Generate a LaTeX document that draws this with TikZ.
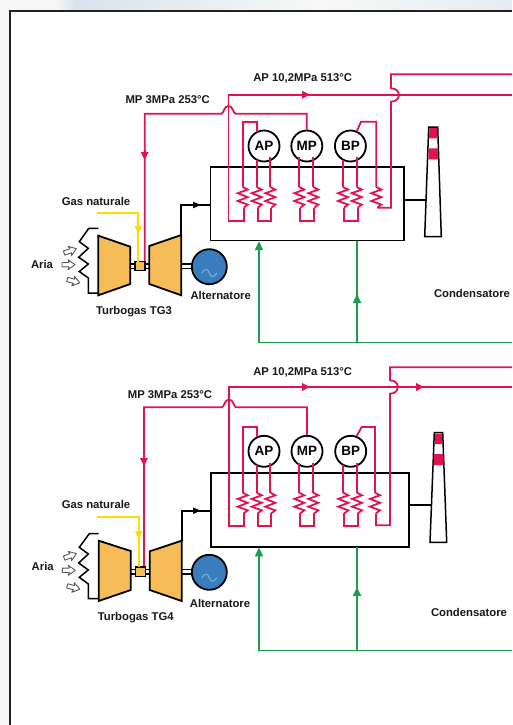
\documentclass[tikz,border=0pt]{standalone}
\usepackage{fontspec}
\setmainfont{Liberation Sans}
\usetikzlibrary{arrows.meta,calc}
\definecolor{pipered}{HTML}{E2134F}
\definecolor{gasyellow}{HTML}{FFDB00}
\definecolor{pipegreen}{HTML}{1E9C50}
\definecolor{machine}{HTML}{F5BC58}
\definecolor{genblue}{HTML}{3A7DBE}
\definecolor{sinecol}{HTML}{7FC4D8}
\definecolor{framecol}{HTML}{222222}
\definecolor{paper}{HTML}{F7F7F7}
\definecolor{tinta}{HTML}{D8E3EE}
\definecolor{tintb}{HTML}{F6F9F6}
\definecolor{tintc}{HTML}{E6ECF4}
\tikzset{
  x=1pt,y=-1pt,
  redpipe/.style={draw=pipered,line width=1.8pt,line join=miter},
  blackline/.style={draw=black,line width=1.8pt},
  greenpipe/.style={draw=pipegreen,line width=1.6pt},
  yellowpipe/.style={draw=gasyellow,line width=1.7pt},
  redtip/.style={redpipe,-{Triangle[length=8pt,width=7.5pt]}},
  blacktip/.style={blackline,-{Triangle[length=8pt,width=6pt]}},
  greentip/.style={greenpipe,-{Triangle[length=9pt,width=8pt]}},
  yellowtip/.style={yellowpipe,-{Triangle[length=8pt,width=7pt]}},
  lbl/.style={font=\fontsize{11.3}{12}\selectfont\bfseries,text=black!90,inner sep=0pt},
  turbine/.style={draw=black,line width=1.8pt,fill=machine,line join=miter},
  drum/.style={circle,draw=black,line width=1.8pt,fill=white,minimum size=31pt,inner sep=0pt,font=\fontsize{13.5}{14}\selectfont\bfseries},
  gen/.style={circle,draw=black,line width=1.8pt,fill=genblue,minimum size=35pt,inner sep=0pt},
  burner/.style={draw=black,line width=1.5pt,fill=machine,inner sep=0pt},
  hrsg/.style={draw=black,line width=1.8pt,inner sep=0pt},
}
% coil: name, x, top y, bottom y
\newcommand{\coil}[4]{%
  \coordinate (#1-t) at (#2,#3);
  \coordinate (#1-b) at (#2+1,#4);
  \draw[redpipe] (#1-t) -- ++(5,2.6) -- ++(-10,3.6) -- ++(10,3.9) -- ++(-10,3.9) -- ++(10,3.6) -- (#1-b);
}
% hollow air arrow: x, y, angle
\newcommand{\airarrow}[3]{%
  \draw[draw=black!65,fill=white,line width=.9pt,line join=round,rotate around={#3:(#1,#2)}]
    (#1-7,#2-2.2) -- (#1,#2-2.2) -- (#1-1,#2-5) -- (#1+6,#2) -- (#1-1,#2+5) -- (#1,#2+2.2) -- (#1-7,#2+2.2) -- cycle;
}
% double shaft line between two abscissae
\newcommand{\shaft}[3]{%
  \draw[black,line width=1.2pt] (#1,#3-2.1) -- (#2,#3-2.1) (#1,#3+2.1) -- (#2,#3+2.1);
}
\newcommand{\sine}[2]{%
  \draw[sinecol,line width=.8pt] (#1-7.5,#2) .. controls (#1-4,#2-5.5) and (#1-1.5,#2-4) .. (#1,#2) .. controls (#1+1.5,#2+4) and (#1+4,#2+5.5) .. (#1+7.5,#2);
}
\begin{document}
\begin{tikzpicture}
\useasboundingbox (0,0) rectangle (512,725);
\fill[paper] (0,0) rectangle (512,725);
% top tint
\shade[left color=paper,right color=tinta] (55,0) rectangle (75,10);
\shade[left color=tinta,right color=tintb] (75,0) rectangle (320,10);
\shade[left color=tintb,right color=tintc] (320,0) rectangle (512,10);
% frame
\fill[white] (10,11) rectangle (512,725);
\draw[framecol,line width=1.5pt] (512,11) -- (10,11) -- (10,725);

%% ---------- upper group TG3 ----------
\node[hrsg,minimum width=193.5pt,minimum height=73.5pt] (boxA) at (307.2,203.8) {};
\node[drum] (apA) at (264,146) {AP};
\node[drum] (mpA) at (306.8,146) {MP};
\node[drum] (bpA) at (350.4,146) {BP};
\foreach \n/\x in {a1/242.7,a2/256.7,a3/270.3,a4/299.3,a5/313.3,a6/343,a7/356.7,a8/376.3}{\coil{\n}{\x}{187}{207.7}}
% AP main line
\coordinate (apstartA) at (228.5,220.8);
\draw[redpipe] (512,94.7) -- (228.5,94.7) -- (apstartA) -| (a1-b);
\draw[redtip] (296,94.7) -- (310,94.7);
% AP loop
\draw[redpipe] (a1-t) |- (256.7,121.7) -- (256.7,132);
\draw[redpipe] (256.7,160) -- (a2-t);
\draw[redpipe] (270.3,157) -- (a3-t);
\draw[redpipe] (a2-b) |- (271.3,220.8) -- (a3-b);
% MP
\draw[redpipe] (144.7,261.5) -- (144.7,113.7) -- (221.5,113.7) .. controls (223.5,113.7) and (224,106) .. (228.5,106) .. controls (233,106) and (233.5,113.7) .. (235.5,113.7) -| (mpA.north);
\draw[redtip] (144.7,150) -- (144.7,160);
\draw[redpipe] (299.3,157) -- (a4-t);
\draw[redpipe] (313.3,157) -- (a5-t);
\draw[redpipe] (a4-b) |- (314.3,220.8) -- (a5-b);
% BP
\draw[redpipe] (343,160) -- (a6-t);
\draw[redpipe] (356.7,157) -- (a7-t);
\draw[redpipe] (a6-b) |- (357.7,220.8) -- (a7-b);
\draw[redpipe] (a8-t) |- (361,121.7) -- (356.7,131.5);
% upper AP return with bump
\draw[redpipe] (a8-b) -| (391,101.7) .. controls (401.5,101.7) and (401.5,88.3) .. (391,88.3) -- (391,74.3) -- (512,74.3);
% stack
\draw[black,line width=1.5pt,fill=white] (428.7,127) -- (437.7,127) -- (441.3,236.7) -- (424.7,236.7) -- cycle;
\fill[pipered] (429.4,128) -- (437,128) -- (437.3,138.3) -- (429.1,138.3) -- cycle;
\fill[pipered] (428.8,148.3) -- (437.8,148.3) -- (438.1,159.3) -- (428.5,159.3) -- cycle;
\coordinate (stackinA) at (426,200);
\draw[blackline] (boxA.east |- stackinA) -- (stackinA);
% turbines
\draw[turbine] (98.3,235.7) -- (130.3,246.7) -- (130.3,284) -- (98.3,295.3) -- cycle;
\draw[turbine] (149.3,246) -- (181.3,235) -- (181.3,295.3) -- (149.3,284) -- cycle;
\shaft{130.3}{149.3}{266}
\node[burner,minimum width=10pt,minimum height=9pt] (burnA) at (140,266) {};
\shaft{181.3}{192.5}{266}
\node[gen] (genA) at (209.3,266.7) {};
\sine{209.3}{273}
% exhaust to box
\coordinate (exA) at (181.3,235);
\draw[blackline] (exA) |- (boxA.west |- 0,205);
\draw[blacktip] (190,205) -- (201,205);
% gas
\coordinate (gasA) at (97,212.7);
\draw[yellowpipe] (gasA) -| (138.3,261.5);
\draw[yellowtip] (138.3,225) -- (138.3,234);
% filter
\draw[black,line width=1.5pt,line join=miter] (98.3,228.3) -- (88.8,228.3) -- (79.3,241.7) -- (88.3,248.3) -- (78.7,257.3) -- (88.3,264) -- (79.3,271.5) -- (88.3,278) -- (88.3,293) -- (98.3,293);
\airarrow{70.7}{250.7}{20}
\airarrow{69}{264.7}{0}
\airarrow{74}{281.3}{-15}
% green
\coordinate (gA) at (512,342.5);
\draw[greenpipe] (gA) -- (259,342.5) -- (259,248);
\draw[greentip] (259,251) -- (259,241.2);
\draw[greenpipe] (357,240.7) -- (357,342.5);
\draw[greentip] (357,304) -- (357,294);
% labels
\node[lbl] (l1) at (167.7,99.3) {MP 3MPa 253°C};
\node[lbl] (l2) at (302.7,78.3) {AP 10,2MPa 513°C};
\node[lbl] (l3) at (96,201.7) {Gas naturale};
\node[lbl] (l4) at (42,264.7) {Aria};
\node[lbl] (l5) at (134,311.7) {Turbogas TG3};
\node[lbl] (l6) at (220.7,295.7) {Alternatore};
\node[lbl] (l7) at (472,293) {Condensatore};

%% ---------- lower group TG4 ----------
\node[hrsg,minimum width=198.6pt,minimum height=73.4pt] (boxB) at (310,510) {};
\node[drum] (apB) at (264,451.3) {AP};
\node[drum] (mpB) at (307,451.3) {MP};
\node[drum] (bpB) at (350.7,451.3) {BP};
\foreach \n/\x in {b1/242.7,b2/256.7,b3/270.3,b4/299.3,b5/313.3,b6/343.3,b7/357,b8/375}{\coil{\n}{\x}{492.7}{513.3}}
\draw[redpipe] (512,387) -- (229,387) -- (229,525.7) -| (b1-b);
\draw[redtip] (296,387) -- (310,387);
\draw[redtip] (410,387) -- (424,387);
\draw[redpipe] (b1-t) |- (256.7,427) -- (256.7,437);
\draw[redpipe] (256.7,465) -- (b2-t);
\draw[redpipe] (270.3,462.5) -- (b3-t);
\draw[redpipe] (b2-b) |- (271.3,525.7) -- (b3-b);
\draw[redpipe] (144,567) -- (144,407.3) -- (222,407.3) .. controls (224,407.3) and (224.5,399.5) .. (229,399.5) .. controls (233.5,399.5) and (234,407.3) .. (236,407.3) -| (mpB.north);
\draw[redtip] (144,456) -- (144,466);
\draw[redpipe] (299.3,462.5) -- (b4-t);
\draw[redpipe] (313.3,462.5) -- (b5-t);
\draw[redpipe] (b4-b) |- (314.3,525.7) -- (b5-b);
\draw[redpipe] (343.3,465) -- (b6-t);
\draw[redpipe] (357,462.5) -- (b7-t);
\draw[redpipe] (b6-b) |- (358,525.7) -- (b7-b);
\draw[redpipe] (b8-t) |- (361.7,427) -- (356.7,436);
\draw[redpipe] (b8-b) |- (390,525.3) -- (390,393.7) .. controls (400.5,393.7) and (400.5,380.3) .. (390,380.3) -- (390,367.3) -- (512,367.3);
\draw[black,line width=1.5pt,fill=white] (434.3,432.7) -- (442.7,432.7) -- (446.7,542.3) -- (430,542.3) -- cycle;
\fill[pipered] (435,434) -- (442,434) -- (442.4,444) -- (434.7,444) -- cycle;
\fill[pipered] (434,454) -- (443.1,454) -- (443.5,465) -- (433.6,465) -- cycle;
\coordinate (stackinB) at (431,505.3);
\draw[blackline] (boxB.east |- stackinB) -- (stackinB);
\draw[turbine] (98.7,540.7) -- (130.7,551) -- (130.7,590) -- (98.7,601) -- cycle;
\draw[turbine] (149.7,551.3) -- (181.7,540.7) -- (181.7,601) -- (149.7,590) -- cycle;
\shaft{130.7}{149.7}{571.8}
\node[burner,minimum width=10pt,minimum height=9.6pt] (burnB) at (140.3,571.8) {};
\shaft{181.7}{192}{571.8}
\node[gen] (genB) at (209.3,572.3) {};
\sine{209.3}{577.7}
\coordinate (exB) at (181.7,540.7);
\draw[blackline] (exB) |- (boxB.west |- 0,510.7);
\draw[blacktip] (190,510.7) -- (201,510.7);
\coordinate (gasB) at (97.3,516.7);
\draw[yellowpipe] (gasB) -| (138.7,567);
\draw[yellowtip] (138.7,530) -- (138.7,539);
\draw[black,line width=1.5pt,line join=miter] (98.7,533.7) -- (89.3,533.7) -- (79.3,547.3) -- (88.3,554) -- (78.7,563) -- (88.3,570) -- (79.3,577.3) -- (88.3,584) -- (88.3,598.7) -- (98.7,598.7);
\airarrow{70.7}{555.7}{20}
\airarrow{69.3}{570.3}{0}
\airarrow{74}{587.7}{-15}
\coordinate (gB) at (512,650.5);
\draw[greenpipe] (gB) -- (259,650.5) -- (259,554);
\draw[greentip] (259,557) -- (259,547.4);
\draw[greenpipe] (357,546.7) -- (357,650.5);
\draw[greentip] (357,597) -- (357,587);
\node[lbl] (m1) at (170,395) {MP 3MPa 253°C};
\node[lbl] (m2) at (302.7,372.7) {AP 10,2MPa 513°C};
\node[lbl] (m3) at (96,504.7) {Gas naturale};
\node[lbl] (m4) at (42.7,566) {Aria};
\node[lbl] (m5) at (135.7,617.3) {Turbogas TG4};
\node[lbl] (m6) at (220,603.3) {Alternatore};
\node[lbl] (m7) at (469,612) {Condensatore};
\end{tikzpicture}
\end{document}
